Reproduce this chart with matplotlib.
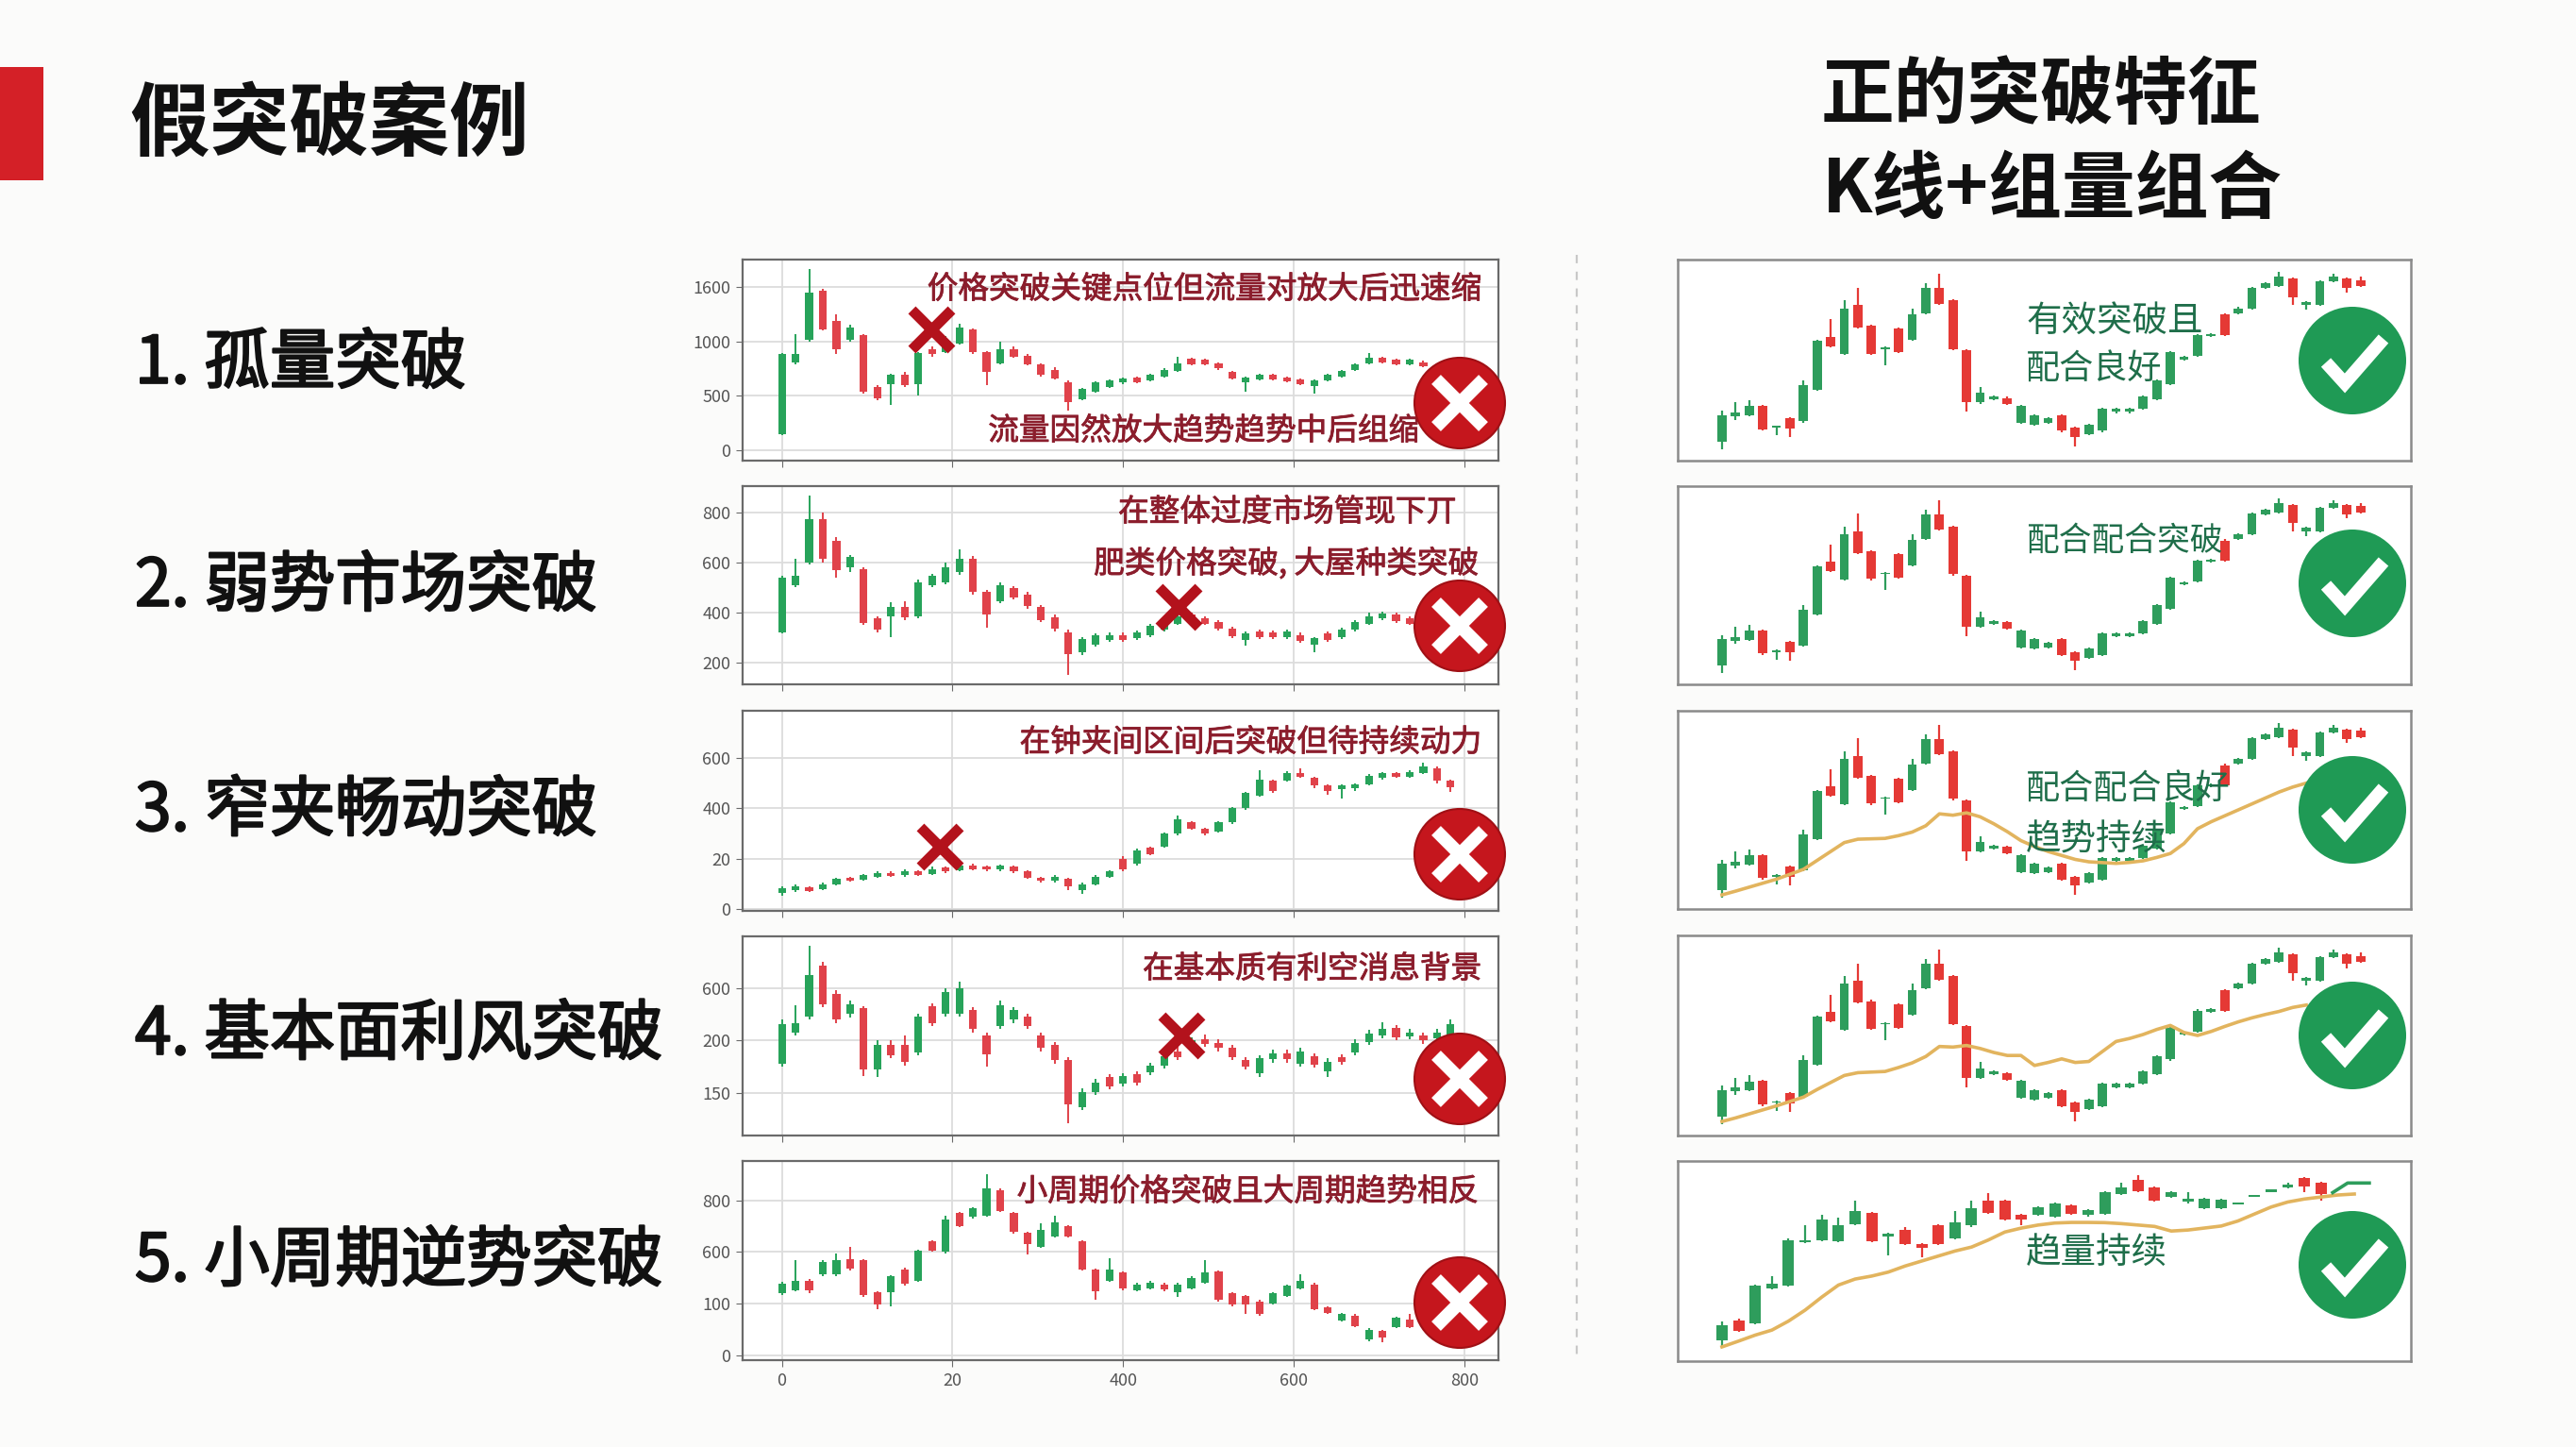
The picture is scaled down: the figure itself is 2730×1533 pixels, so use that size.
import numpy as np
import matplotlib
matplotlib.use('Agg')
import matplotlib.pyplot as plt
import matplotlib.patheffects as pe
from matplotlib.patches import Circle, Rectangle

plt.rcParams['font.family'] = ['Noto Sans CJK SC', 'DejaVu Sans']

# ---------------- DATA ----------------
title_left = '假突破案例'
title_right = ['正的突破特征', 'K线+组量组合']
case_labels = ['1. 孤量突破', '2. 弱势市场突破', '3. 窄夹畅动突破', '4. 基本面利风突破', '5. 小周期逆势突破']
case_notes = [
    ['价格突破关键点位但流量对放大后迅速缩', '流量因然放大趋势趋势中后组缩'],
    ['在整体过度市场管现下丌', '肥类价格突破, 大屋种类突破'],
    ['在钟夹间区间后突破但待持续动力'],
    ['在基本质有利空消息背景'],
    ['小周期价格突破且大周期趋势相反'],
]
good_notes = [['有效突破且', '配合良好'], ['配合配合突破'], ['配合配合良好', '趋势持续'], [], ['趋量持续']]

x_ticks = [0, 200, 400, 600, 800]
x_tick_labels = ['0', '20', '400', '600', '800']
y_ticks = [[0, 500, 1000, 1500], [200, 400, 600, 800], [0, 200, 400, 600], [150, 200, 250], [0, 200, 400, 600]]
y_tick_labels = [['0', '500', '1000', '1600'], ['200', '400', '600', '800'], ['0', '20', '400', '600'],
                 ['150', '200', '600'], ['0', '100', '600', '800']]
y_limits = [(-95, 1750), (112, 904), (-6, 787), (109, 300), (-18, 752)]

c1_open = [145, 810, 1010, 1460, 1185, 1010, 1055, 580, 607, 690, 607, 930, 900, 980, 1110, 900, 800, 930, 870, 790, 740, 620, 470, 540, 580, 620, 665, 640, 680, 730, 840, 830, 800, 720, 620, 650, 690, 670, 650, 590, 640, 680, 740, 800, 850, 830, 790, 810]
c1_close = [880, 880, 1445, 1110, 925, 1130, 535, 480, 690, 600, 895, 880, 1000, 1130, 900, 720, 930, 860, 790, 690, 660, 440, 560, 620, 640, 660, 625, 690, 740, 800, 790, 790, 750, 660, 670, 690, 650, 630, 610, 640, 690, 730, 790, 850, 810, 790, 830, 770]
c1_high = [890, 1070, 1660, 1480, 1250, 1150, 1070, 600, 700, 720, 900, 950, 1050, 1160, 1120, 910, 1000, 950, 880, 800, 760, 640, 570, 630, 650, 670, 675, 700, 750, 860, 850, 840, 810, 730, 680, 700, 700, 680, 660, 650, 700, 740, 800, 896, 860, 840, 840, 820]
c1_low = [140, 790, 1000, 1100, 880, 1000, 520, 460, 420, 580, 500, 860, 890, 970, 880, 600, 790, 850, 780, 680, 650, 360, 460, 530, 570, 610, 615, 630, 670, 720, 780, 780, 740, 650, 535, 640, 640, 620, 600, 520, 630, 670, 730, 790, 800, 780, 780, 760]

c2_open = [320, 508, 600, 772, 684, 580, 571, 376, 382, 420, 382, 508, 520, 560, 615, 480, 445, 496, 470, 420, 380, 320, 240, 270, 290, 310, 295, 310, 332, 355, 390, 375, 360, 335, 290, 325, 320, 300, 310, 270, 315, 300, 330, 355, 375, 390, 375]
c2_close = [540, 545, 772, 615, 570, 620, 357, 332, 420, 380, 521, 546, 580, 615, 480, 390, 508, 460, 425, 370, 335, 231, 294, 307, 310, 290, 320, 345, 364, 385, 365, 355, 335, 305, 315, 300, 300, 325, 285, 295, 290, 330, 360, 385, 395, 365, 355]
c2_high = [545, 615, 867, 800, 700, 630, 580, 385, 440, 445, 530, 555, 600, 650, 625, 490, 520, 505, 480, 430, 390, 330, 300, 315, 318, 318, 328, 352, 372, 420, 398, 382, 368, 342, 322, 332, 328, 332, 318, 302, 322, 338, 368, 400, 402, 398, 382]
c2_low = [315, 500, 590, 600, 540, 560, 350, 320, 300, 370, 375, 500, 510, 550, 470, 340, 435, 450, 415, 360, 325, 150, 230, 262, 282, 282, 288, 302, 325, 348, 358, 348, 328, 298, 268, 292, 292, 292, 278, 240, 282, 292, 322, 348, 368, 358, 348]

c3_open = [65, 75, 88, 80, 100, 125, 118, 130, 145, 135, 150, 140, 165, 155, 175, 170, 158, 170, 150, 125, 112, 120, 75, 100, 130, 200, 180, 245, 250, 300, 345, 320, 310, 345, 400, 450, 510, 510, 540, 520, 490, 475, 480, 495, 520, 540, 525, 540, 560, 510]
c3_close = [82, 90, 72, 100, 120, 115, 135, 145, 132, 150, 138, 160, 150, 175, 160, 158, 172, 150, 125, 112, 128, 90, 100, 130, 150, 160, 235, 220, 300, 355, 320, 300, 345, 400, 460, 515, 470, 540, 525, 490, 470, 490, 495, 530, 540, 525, 545, 565, 510, 485]
c3_high = [90, 100, 92, 105, 125, 130, 140, 150, 150, 160, 155, 170, 170, 185, 180, 175, 178, 174, 155, 130, 138, 125, 105, 135, 155, 210, 240, 250, 305, 370, 350, 325, 350, 405, 465, 550, 515, 548, 560, 525, 495, 495, 500, 535, 545, 545, 550, 580, 565, 515]
c3_low = [55, 70, 68, 75, 95, 110, 112, 125, 128, 130, 133, 135, 145, 150, 155, 152, 152, 145, 120, 105, 108, 75, 60, 95, 125, 150, 175, 215, 245, 295, 315, 295, 305, 340, 395, 445, 460, 505, 520, 480, 455, 440, 470, 490, 515, 520, 520, 535, 500, 465]

c4_open = [178, 208, 223, 272, 245, 226, 231, 172, 196, 196, 189, 233, 226, 226, 229, 205, 214, 220, 223, 205, 196, 181, 136, 151, 165, 159, 168, 170, 176, 190, 192, 201, 198, 193, 181, 169, 182, 188, 178, 185, 171, 184, 189, 199, 205, 212, 204, 205, 202, 205]
c4_close = [216, 217, 263, 235, 220, 235, 172, 196, 186, 180, 223, 217, 247, 250, 211, 187, 234, 229, 214, 193, 181, 139, 151, 160, 156, 166, 160, 176, 185, 184, 200, 197, 193, 184, 175, 183, 188, 182, 190, 177, 180, 180, 198, 207, 211, 203, 208, 200, 208, 216]
c4_high = [220, 234, 291, 276, 248, 238, 233, 200, 200, 205, 226, 236, 250, 257, 232, 208, 238, 232, 226, 208, 199, 184, 154, 163, 168, 169, 171, 179, 188, 205, 203, 206, 201, 196, 184, 186, 191, 191, 193, 188, 183, 187, 201, 210, 218, 215, 211, 208, 211, 220]
c4_low = [175, 205, 220, 232, 217, 222, 166, 165, 183, 176, 186, 214, 223, 223, 208, 175, 211, 217, 211, 190, 178, 121, 133, 148, 153, 156, 157, 167, 173, 181, 189, 194, 190, 181, 172, 165, 179, 179, 175, 174, 165, 177, 186, 196, 202, 200, 201, 197, 199, 202]

c5_open = [240, 253, 290, 313, 313, 374, 368, 246, 246, 332, 290, 440, 400, 550, 535, 540, 640, 551, 475, 420, 460, 500, 442, 332, 289, 320, 252, 258, 275, 245, 260, 280, 325, 240, 230, 210, 200, 230, 260, 275, 185, 135, 155, 63, 95, 110, 140]
c5_close = [277, 290, 253, 362, 368, 337, 234, 197, 305, 277, 405, 405, 527, 500, 570, 645, 560, 478, 430, 485, 515, 460, 332, 250, 332, 258, 275, 282, 255, 275, 300, 323, 215, 196, 196, 160, 240, 270, 290, 180, 165, 160, 115, 100, 70, 145, 110]
c5_high = [285, 368, 295, 368, 395, 420, 372, 250, 310, 338, 410, 445, 540, 555, 575, 700, 645, 555, 480, 510, 540, 505, 446, 336, 375, 325, 280, 287, 280, 280, 305, 370, 330, 244, 234, 214, 244, 275, 315, 280, 190, 165, 160, 105, 100, 150, 160]
c5_low = [235, 248, 240, 305, 308, 330, 228, 180, 190, 270, 285, 400, 395, 495, 530, 535, 555, 470, 390, 415, 455, 455, 328, 215, 285, 252, 248, 254, 250, 228, 256, 276, 210, 190, 160, 155, 196, 226, 256, 175, 160, 130, 110, 55, 50, 105, 105]

# breakout "x" marks (time units, price) for cases 1-4
mark_x = [175, 465, 185, 468]
mark_y = [1113, 420, 250, 205]

# right side: shared candle pattern for good-breakout panels 1-4
rk_open = [9.4, 22, 22.5, 27.3, 16.4, 21.3, 19.5, 35.2, 61.7, 53, 77.3, 67.2, 55.5, 65.6, 60.2, 73.4, 85.9, 79.7, 54.7, 28.9, 30.5, 31.2, 18.75, 18, 18.75, 22.7, 16.4, 13.3, 14.8, 24.2, 24.2, 25.8, 30.5, 38, 50.3, 52, 62, 72.6, 73.4, 75.8, 85.9, 86.7, 90.6, 77.3, 77.3, 89, 90.6, 89.8]
rk_close = [22.7, 24, 27, 15.6, 17.2, 16, 37.5, 59.4, 57, 75.8, 66.4, 53.1, 56.2, 53.9, 72.7, 85.9, 78, 55.5, 28.9, 33.6, 32, 28, 27.3, 22.7, 21, 14.8, 11.7, 18, 25.8, 25.8, 25.8, 32, 39.8, 54, 51.5, 62.5, 63, 62.5, 75.8, 86, 88.3, 91.4, 81.3, 78.9, 89, 91.4, 85.9, 86.7]
rk_high = [25, 28.9, 30, 27.8, 17.5, 21.8, 40, 60, 70.3, 79.7, 86, 67.7, 56.7, 66, 75.8, 88.3, 92.9, 80.2, 55.2, 36.7, 32.5, 31.7, 27.8, 23.2, 21.5, 23.2, 16.9, 18.5, 26.3, 26.3, 26.3, 32.5, 40.3, 54.5, 52, 63, 63.5, 73.1, 76.3, 86.5, 88.8, 93.8, 91.1, 79.4, 89.5, 92.9, 91.1, 91.4]
rk_low = [5.5, 20.3, 22, 14.8, 12.5, 11.7, 19, 34.7, 56.5, 52.5, 65.9, 52.6, 47.6, 53.4, 59.7, 72.9, 77.5, 55, 24.2, 28.4, 30, 27.5, 18.25, 17.5, 18.25, 14.3, 7, 12.8, 14.3, 23.7, 23.7, 25.3, 30, 37.5, 49.8, 51.5, 61.5, 62, 72.9, 75.3, 85.4, 86.2, 77.3, 75, 76.8, 88.5, 83.6, 86.2]
ma_panel3 = [7.1, 9, 11, 13, 15, 17.5, 20, 24.5, 29, 33.5, 35.2, 35.4, 35.6, 37, 38.8, 42, 48, 47.3, 48.5, 46.5, 43, 39, 34.5, 31.5, 29, 27, 25, 23.8, 23.4, 23, 23.5, 24.3, 26, 28, 33, 40.5, 44, 47, 50, 53, 56, 59, 61.5, 63.5]
ma_panel4 = [7, 8.8, 10.8, 12.8, 14.8, 17, 19.2, 23, 26.5, 30, 31.4, 31.7, 32, 34, 36.3, 39.5, 44.5, 44.2, 45, 43.5, 41.5, 40, 40, 35, 36.5, 38.3, 36.5, 37, 42, 47, 48.5, 50.5, 53, 55, 51.5, 50, 52, 54.5, 56.8, 58.8, 60.5, 62, 64, 65.2]

r5_open = [10.2, 20.5, 18.9, 36.2, 37.8, 59.4, 60.6, 60, 68.5, 74, 62.2, 65.4, 58.3, 68, 61.4, 67.7, 80.3, 80.3, 73.2, 73.2, 72.4, 77.8, 73.2, 73.5, 83.5, 90.6, 86.6, 81.9, 79.5, 76.4, 76.4, 78.4, 82.1, 84.5, 86.6, 91.3, 89.3]
r5_close = [18.1, 15, 37.8, 38.6, 60.6, 60.6, 70.9, 68, 74.8, 59.8, 63.8, 58.3, 56.7, 58.3, 69.3, 76.4, 74, 70.9, 70.9, 76.7, 78.7, 73.5, 75.6, 84.2, 86.6, 85, 80.3, 84.2, 81.1, 81.1, 80.8, 78.9, 82.7, 85.8, 88.2, 87.4, 83.5]
r5_high = [19.7, 21, 38.3, 42.5, 61.1, 67.7, 73.2, 71.7, 80.3, 74.5, 64.3, 67, 58.8, 68.5, 74.8, 80.3, 84, 80.8, 73.7, 77.2, 79.2, 78.3, 76.1, 84.7, 89, 93, 87.1, 84.7, 84.2, 81.6, 81.3, 79.1, 82.9, 86, 89.3, 91.8, 89.8]
r5_low = [7, 14.5, 18.4, 35.7, 37.3, 58.9, 60.1, 59.5, 68, 59.3, 53, 57.8, 52, 57.8, 60.9, 67.2, 73.5, 70.4, 67.7, 72.7, 71.9, 73, 72.4, 73, 83, 84.5, 79.8, 81.4, 79, 75.9, 75.9, 78.2, 81.9, 84.3, 86.4, 84.2, 80.3]
ma_panel5 = [7.1, 10, 13, 15.5, 20, 25.5, 32, 38, 41, 42.5, 44.5, 47.5, 50, 52.5, 55, 57, 60.5, 64.5, 66.5, 68, 69, 69.3, 69.3, 69.2, 68.7, 68, 67.3, 65, 65.5, 66.5, 67.5, 70, 73.5, 77, 79.5, 81, 82, 83, 83.5]
r5_tail_x = [36.7, 37.6, 38.9]
r5_tail_y = [84.2, 89.0, 89.0]

# ---------------- STYLE / LAYOUT ----------------
W, H = 2730, 1533
BG = '#fbfbfa'
UP_L, DN_L = '#27a35a', '#e0424a'
UP_R, DN_R = '#2e9d5c', '#e53935'
MA_C = '#e2b45e'
NOTE_RED = '#8b1d2c'
NOTE_GREEN = '#1f6e4a'

fig = plt.figure(figsize=(W / 100, H / 100), dpi=100)
fig.patch.set_facecolor(BG)


def rect(x0, y0, x1, y1):
    return [x0 / W, 1 - y1 / H, (x1 - x0) / W, (y1 - y0) / H]


def draw_candles(ax, x, o, c, h, l, width, up, dn, wick_lw, min_h):
    o, c, h, l = map(np.asarray, (o, c, h, l))
    col = np.where(c >= o, up, dn)
    ax.vlines(x, l, h, colors=col, lw=wick_lw, zorder=2)
    ax.bar(x, np.maximum(np.abs(c - o), min_h), width, bottom=np.minimum(o, c),
           color=col, linewidth=0, zorder=3)


left_rows = [(275, 488), (515, 725), (753, 965), (992, 1203), (1230, 1441)]
right_rows = [(275, 488), (515, 725), (753, 963), (991, 1203), (1230, 1442)]
left_data = [(c1_open, c1_close, c1_high, c1_low), (c2_open, c2_close, c2_high, c2_low),
             (c3_open, c3_close, c3_high, c3_low), (c4_open, c4_close, c4_high, c4_low),
             (c5_open, c5_close, c5_high, c5_low)]
STEP = 16  # time units per candle

for k in range(5):
    y0, y1 = left_rows[k]
    ax = fig.add_axes(rect(787, y0, 1588, y1))
    ax.set_facecolor('white')
    o, c, h, l = left_data[k]
    x = np.arange(len(o)) * STEP
    lo, hi = y_limits[k]
    draw_candles(ax, x, o, c, h, l, 9, UP_L, DN_L, 1.4, (hi - lo) * 0.008)
    ax.set_xlim(-46, 840)
    ax.set_ylim(lo, hi)
    ax.set_xticks(x_ticks)
    ax.set_xticklabels(x_tick_labels if k == 4 else [])
    ax.set_yticks(y_ticks[k])
    ax.set_yticklabels(y_tick_labels[k])
    ax.grid(True, color='#dcdcdc', lw=1.3)
    ax.set_axisbelow(True)
    for s in ax.spines.values():
        s.set_color('#6a6a6a')
        s.set_linewidth(1.6)
    ax.tick_params(length=5, color='#6a6a6a', labelsize=13, labelcolor='#555555', pad=4)
    if k < 4:
        ax.plot(mark_x[k], mark_y[k], marker='x', ms=30, mew=8, color='#b3121c',
                zorder=6, clip_on=False)

for k in range(5):
    y0, y1 = right_rows[k]
    ax = fig.add_axes(rect(1778, y0, 2555, y1))
    ax.set_facecolor('white')
    if k < 4:
        x = np.arange(len(rk_open))
        draw_candles(ax, x, rk_open, rk_close, rk_high, rk_low, 0.68, UP_R, DN_R, 1.6, 0.8)
        ax.set_xlim(-3.26, 50.7)
        if k == 2:
            ax.plot(np.arange(len(ma_panel3)), ma_panel3, color=MA_C, lw=2.6, zorder=4)
        if k == 3:
            ax.plot(np.arange(len(ma_panel4)), ma_panel4, color=MA_C, lw=2.6, zorder=4)
    else:
        x = np.arange(len(r5_open))
        draw_candles(ax, x, r5_open, r5_close, r5_high, r5_low, 0.68, UP_R, DN_R, 1.6, 0.8)
        ax.plot(np.arange(len(ma_panel5)), ma_panel5, color=MA_C, lw=2.6, zorder=4)
        ax.plot(r5_tail_x, r5_tail_y, color=UP_R, lw=2.6, zorder=4)
        ax.set_xlim(-2.66, 41.4)
    ax.set_ylim(0, 100)
    ax.set_xticks([])
    ax.set_yticks([])
    for s in ax.spines.values():
        s.set_color('#8a8a8a')
        s.set_linewidth(1.8)

# ---------------- OVERLAY (titles, labels, badges) ----------------
ov = fig.add_axes([0, 0, 1, 1])
ov.set_xlim(0, W)
ov.set_ylim(H, 0)
ov.axis('off')
ov.set_zorder(10)

ov.add_patch(Rectangle((0, 71), 46, 120, color='#d42027', lw=0))
ov.text(137, 133, title_left, fontsize=61, weight='bold', color='#111111', va='center', ha='left')
ov.text(2163, 102, title_right[0], fontsize=56, weight='bold', color='#111111', va='center', ha='center')
ov.text(2175, 202, title_right[1], fontsize=56, weight='bold', color='#111111', va='center', ha='center')

label_y = [386, 622, 860, 1097, 1337]
for k in range(5):
    ov.text(143, label_y[k], case_labels[k], fontsize=50, color='#111111', va='center', ha='left',
            path_effects=[pe.withStroke(linewidth=1.6, foreground='#111111')])

ov.plot([1671, 1671], [270, 1436], ls=(0, (4, 4)), color='#c8c8c8', lw=1.6)

note_pos = [[(1570, 307), (1504, 457)], [(1544, 543), (1567, 597)], [(1570, 787)], [(1570, 1027)], [(1567, 1263)]]
for k in range(5):
    for txt, (xr, yc) in zip(case_notes[k], note_pos[k]):
        ov.text(xr, yc, txt, fontsize=23.5, color=NOTE_RED, ha='right', va='center',
                path_effects=[pe.withStroke(linewidth=0.6, foreground=NOTE_RED)])

good_pos = [[(340, 27), (392, 26)], [(573, 25)], [(837, 26), (890, 27)], [], [(1327, 27)]]
for k in range(5):
    for txt, (yc, fs) in zip(good_notes[k], good_pos[k]):
        ov.text(2147, yc, txt, fontsize=fs, color=NOTE_GREEN, ha='left', va='center')

# red "X" badges
for cy in [427, 663, 905, 1143, 1380]:
    cx = 1547
    ov.add_patch(Circle((cx, cy), 48, color='#c5161d', ec='#a01015', lw=1.5, zorder=5))
    d = 25
    ov.plot([cx - d, cx + d], [cy - d, cy + d], color='white', lw=10, solid_capstyle='butt', zorder=6)
    ov.plot([cx - d, cx + d], [cy + d, cy - d], color='white', lw=10, solid_capstyle='butt', zorder=6)

# green check badges
for cy in [382, 618, 858, 1097, 1340]:
    cx = 2493
    ov.add_patch(Circle((cx, cy), 57, color='#1f9a55', lw=0, zorder=5))
    ov.plot([cx - 28, cx - 8, cx + 33], [cy + 2, cy + 24, cy - 23], color='white', lw=10,
            solid_capstyle='butt', solid_joinstyle='miter', zorder=6)

fig.savefig('out.png', dpi=100, facecolor=BG)
